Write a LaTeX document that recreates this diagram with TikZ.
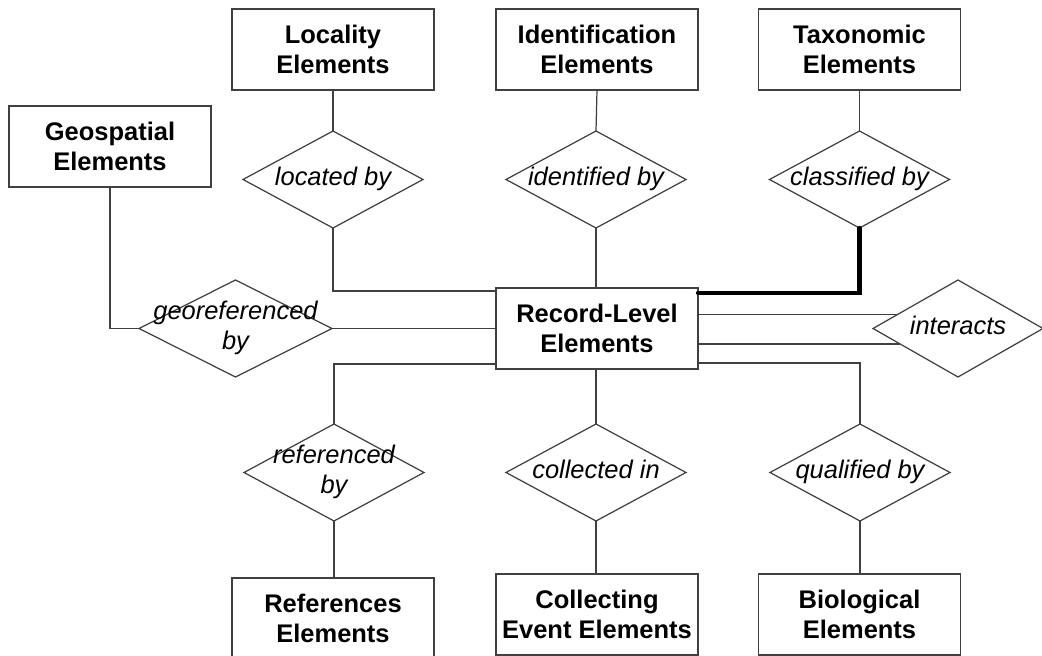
\documentclass[tikz,border=0pt]{standalone}
\usepackage{fontspec}
\setsansfont{Liberation Sans}
\usepackage{tikz}
\usetikzlibrary{positioning,shapes.geometric}

\newcommand{\relname}[1]{\makebox[0pt]{\begin{tabular}{@{}c@{}}#1\end{tabular}}}

\begin{document}
\begin{tikzpicture}[
      every node/.style={font=\sffamily\fontsize{14.5}{16.7}\selectfont},
      ent/.style={draw=black!75,line width=0.7pt,rectangle,fill=white,minimum width=4.04cm,minimum height=1.62cm,inner sep=0pt,outer sep=0pt,align=center,font=\sffamily\bfseries\fontsize{14.5}{16.7}\selectfont},
      rel/.style={draw=black!75,line width=0.7pt,diamond,minimum width=3.6cm,minimum height=1.94cm,inner sep=0pt,outer sep=0pt,font=\sffamily\itshape\fontsize{14.5}{16.7}\selectfont},
      lnk/.style={draw=black!75,line width=0.7pt},
      thk/.style={draw=black,line width=2.4pt,line cap=round}
    ]
    \clip (0,0) rectangle (20.84,13.1);
    % entity boxes, upper row
    \node[ent] (loc) at (6.66,12.11) {Locality\\Elements};
    \node[ent] (idn) at (11.94,12.11) {Identification\\Elements};
    \node[ent] (tax) at (17.19,12.11) {Taxonomic\\Elements};
    \node[ent] (geo) at (2.20,10.17) {Geospatial\\Elements};
    % central record box
    \node[ent] (rec) at (11.94,6.53) {Record-Level\\Elements};
    % entity boxes, lower row (cut by the page edge)
    \node[ent] (ref) at (6.66,0.73) {References\\Elements};
    \node[ent] (col) at (11.94,0.81) {Collecting\\Event Elements};
    \node[ent] (bio) at (17.19,0.81) {Biological\\Elements};
    % relationships
    \node[rel] (locby) at (6.66,9.51) {\relname{located by}};
    \node[rel] (idby) at (11.92,9.51) {\relname{identified by}};
    \node[rel] (clby) at (17.19,9.51) {\relname{classified by}};
    \node[rel,minimum width=3.86cm] (geoby) at (4.71,6.53) {\relname{georeferenced\\by}};
    \node[rel,minimum width=3.4cm] (inter) at (19.16,6.53) {\relname{interacts}};
    \node[rel] (refby) at (6.68,3.65) {\relname{referenced\\by}};
    \node[rel] (colin) at (11.92,3.65) {\relname{collected in}};
    \node[rel] (qualby) at (17.2,3.65) {\relname{qualified by}};
    % upper links
    \draw[lnk] (loc.south) -- (locby.north);
    \draw[lnk] (locby.south) |- ([yshift=-0.06cm]rec.north west);
    \draw[lnk] (idn.south) -- (idby.north);
    \draw[lnk] (idby.south) -- (idby.south |- rec.north);
    \draw[lnk] (tax.south) -- (clby.north);
    \draw[thk] (clby.south) |- ([yshift=-0.1cm]rec.north east);
    % side links
    \draw[lnk] (geo.south) |- (geoby.west);
    \draw[lnk] (geoby.east) -- (rec.west);
    \draw[lnk] (rec.east |- inter.167.6) -- (inter.167.6);
    \draw[lnk] (rec.east |- inter.195) -- (inter.195);
    % lower links
    \draw[lnk] ([yshift=0.1cm]rec.south west) -| (refby.north);
    \draw[lnk] (refby.south) -- (refby.south |- ref.north);
    \draw[lnk] (colin.north |- rec.south) -- (colin.north);
    \draw[lnk] (colin.south) -- (colin.south |- col.north);
    \draw[lnk] ([yshift=0.12cm]rec.south east) -| (qualby.north);
    \draw[lnk] (qualby.south) -- (qualby.south |- bio.north);
  \end{tikzpicture}
\end{document}
